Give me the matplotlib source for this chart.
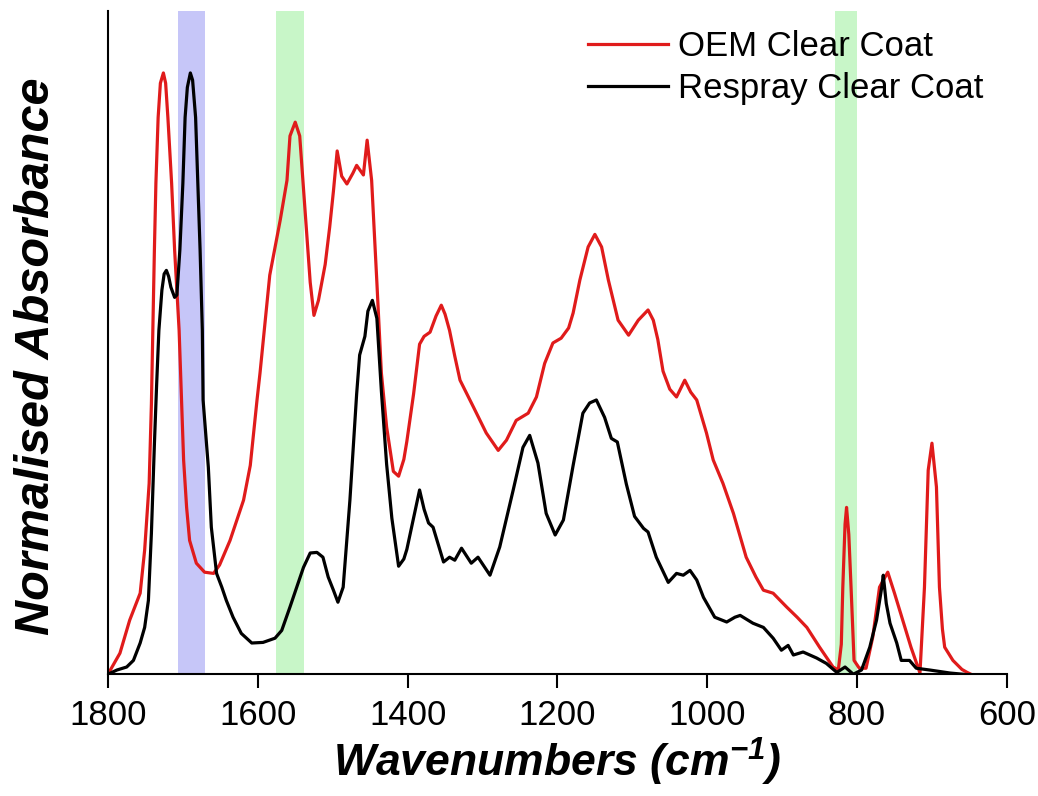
import numpy as np
import matplotlib
matplotlib.use('Agg')
import matplotlib.pyplot as plt

''' Data read off the spectra '''
oem_wn = [1800, 1784, 1771, 1757, 1751, 1745, 1742, 1740, 1738, 1736, 1733, 1730, 1726, 1723, 1720,
          1715, 1711, 1705, 1702, 1699, 1695, 1691, 1682, 1671, 1659, 1651, 1637, 1619, 1610,
          1601, 1597, 1584, 1570, 1561, 1557, 1550, 1544, 1537, 1530, 1525, 1519, 1510, 1504,
          1499, 1494, 1488, 1481, 1473, 1468, 1459, 1454, 1448, 1441, 1435, 1428, 1419, 1412,
          1405, 1401, 1392, 1384, 1378, 1370, 1362, 1355, 1350, 1344, 1337, 1330, 1312, 1295,
          1279, 1268, 1255, 1239, 1228, 1217, 1206, 1195, 1185, 1179, 1170, 1159, 1150, 1141,
          1132, 1119, 1105, 1092, 1079, 1072, 1066, 1059, 1050, 1041, 1030, 1022, 1014, 1001,
          992, 979, 965, 948, 935, 925, 912, 894, 880, 867, 850, 832, 825, 821, 819, 816, 814,
          811, 808, 804, 797, 788, 779, 770, 759, 750, 739, 728, 716, 710, 705, 700, 694, 690,
          686, 683, 672, 660, 653, 648]
oem_abs = [0.0, 0.035, 0.09, 0.135, 0.207, 0.318, 0.45, 0.583, 0.707, 0.818, 0.928, 0.985, 1.002, 0.985, 0.928,
           0.818, 0.707, 0.573, 0.467, 0.357, 0.278, 0.223, 0.185, 0.17, 0.168, 0.182, 0.223, 0.29, 0.348,
           0.457, 0.502, 0.665, 0.757, 0.823, 0.897, 0.92, 0.897, 0.775, 0.653, 0.598, 0.623, 0.683, 0.745,
           0.805, 0.872, 0.83, 0.817, 0.835, 0.848, 0.832, 0.89, 0.823, 0.653, 0.502, 0.412, 0.338, 0.33,
           0.358, 0.388, 0.467, 0.55, 0.563, 0.57, 0.597, 0.615, 0.60, 0.573, 0.53, 0.49, 0.445, 0.402,
           0.373, 0.39, 0.423, 0.435, 0.462, 0.518, 0.552, 0.56, 0.577, 0.602, 0.657, 0.712, 0.733, 0.712,
           0.657, 0.59, 0.565, 0.59, 0.607, 0.59, 0.558, 0.505, 0.475, 0.462, 0.49, 0.47, 0.457, 0.402,
           0.357, 0.318, 0.268, 0.195, 0.162, 0.14, 0.135, 0.112, 0.095, 0.078, 0.045, 0.012, 0.007, 0.05, 0.145, 0.25, 0.278,
           0.233, 0.145, 0.023, 0.01, 0.01, 0.062, 0.145, 0.17, 0.135, 0.09, 0.045, 0.002, 0.145, 0.34, 0.385, 0.312, 0.145,
           0.075, 0.045, 0.023, 0.008, 0.003, 0.0]

respray_wn = [1800, 1788, 1775, 1766, 1757, 1751, 1746, 1742, 1738, 1735, 1732, 1728, 1725, 1722, 1719, 1716,
              1711, 1708, 1704, 1700, 1697, 1694, 1690, 1687, 1683, 1680, 1677, 1674, 1673, 1666, 1662, 1655, 1648,
              1642, 1633, 1622, 1608, 1593, 1577, 1568, 1557, 1548, 1539, 1530, 1521, 1513, 1506,
              1499, 1493, 1486, 1477, 1468, 1464, 1457, 1453, 1447, 1441, 1435, 1428, 1421, 1412,
              1405, 1401, 1392, 1384, 1378, 1372, 1366, 1352, 1344, 1337, 1328, 1315, 1306, 1290,
              1277, 1259, 1246, 1237, 1226, 1215, 1203, 1192, 1179, 1166, 1157, 1148, 1137, 1128,
              1120, 1108, 1097, 1085, 1079, 1068, 1052, 1041, 1032, 1023, 1014, 1005, 990, 974,
              963, 956, 939, 925, 912, 901, 892, 885, 872, 854, 841, 827, 816, 805, 794, 783, 774,
              767, 765, 761, 756, 747, 741, 730, 721, 703, 676, 659]
respray_abs = [0.0, 0.007, 0.012, 0.023, 0.052, 0.078, 0.123, 0.235, 0.383, 0.483, 0.573, 0.64, 0.667, 0.673, 0.663, 0.645,
               0.628, 0.632, 0.707, 0.818, 0.928, 0.978, 1.002, 0.99, 0.928, 0.818, 0.707, 0.573, 0.457, 0.345, 0.245, 0.168, 0.145,
               0.123, 0.095, 0.068, 0.052, 0.053, 0.06, 0.073, 0.112, 0.145, 0.178, 0.202, 0.203, 0.195, 0.162,
               0.14, 0.12, 0.145, 0.29, 0.467, 0.532, 0.563, 0.605, 0.623, 0.593, 0.472, 0.35, 0.26, 0.18,
               0.192, 0.208, 0.26, 0.307, 0.275, 0.252, 0.245, 0.187, 0.195, 0.19, 0.21, 0.185, 0.195, 0.165,
               0.212, 0.307, 0.378, 0.398, 0.352, 0.268, 0.232, 0.257, 0.348, 0.435, 0.452, 0.457, 0.428, 0.393,
               0.387, 0.317, 0.263, 0.243, 0.237, 0.195, 0.153, 0.168, 0.165, 0.173, 0.157, 0.128, 0.095, 0.087,
               0.095, 0.098, 0.085, 0.078, 0.06, 0.04, 0.048, 0.032, 0.037, 0.027, 0.018, 0.003, 0.012, 0.0, 0.007, 0.045, 0.09,
               0.145, 0.165, 0.118, 0.085, 0.052, 0.023, 0.023, 0.01, 0.007, 0.002, 0.0]

# highlighted bands (cm-1)
blue_band = (1707, 1670)
green_bands = [(1576, 1538), (830, 800)]

xticks = [1800, 1600, 1400, 1200, 1000, 800, 600]

''' Plot '''
plt.rcParams['font.family'] = 'Liberation Sans'
plt.rcParams['mathtext.fontset'] = 'custom'
plt.rcParams['mathtext.rm'] = 'Liberation Sans:bold:italic'
plt.rcParams['mathtext.it'] = 'Liberation Sans:bold:italic'
plt.rcParams['mathtext.bf'] = 'Liberation Sans:bold:italic'

fig = plt.figure(figsize=(10.38, 7.96), dpi=100)
ax = fig.add_axes([0.104, 0.153, 0.866, 0.833])

ax.axvspan(blue_band[0], blue_band[1], color='#c6c6f8', lw=0, zorder=0)
for lo, hi in green_bands:
    ax.axvspan(lo, hi, color='#c8f6c8', lw=0, zorder=0)

ax.plot(oem_wn, oem_abs, color='#e01b1b', lw=2.3, label='OEM Clear Coat', zorder=2)
ax.plot(respray_wn, respray_abs, color='black', lw=2.3, label='Respray Clear Coat', zorder=3)

ax.set_xlim(1800, 600)
ax.set_ylim(0, 1.105)
ax.set_xticks(xticks)
ax.set_yticks([])
ax.tick_params(axis='x', direction='out', length=10, width=1.5, labelsize=25, pad=8)
ax.spines['top'].set_visible(False)
ax.spines['right'].set_visible(False)
ax.spines['left'].set_linewidth(1.5)
ax.spines['bottom'].set_linewidth(1.5)

ax.set_xlabel(r'Wavenumbers (cm$^{-1}$)', fontsize=32, fontweight='bold', style='italic', labelpad=3)
ax.set_ylabel('Normalised Absorbance', fontsize=35, fontweight='bold', style='italic')
ax.yaxis.set_label_coords(-0.0545, 0.48)

ax.legend(loc='upper left', bbox_to_anchor=(0.5665, 0.962), bbox_transform=fig.transFigure,
          frameon=False, fontsize=25, handlelength=2.3, handletextpad=0.3, labelspacing=0.25,
          borderpad=0, borderaxespad=0)

plt.savefig('out.png', dpi=100)
